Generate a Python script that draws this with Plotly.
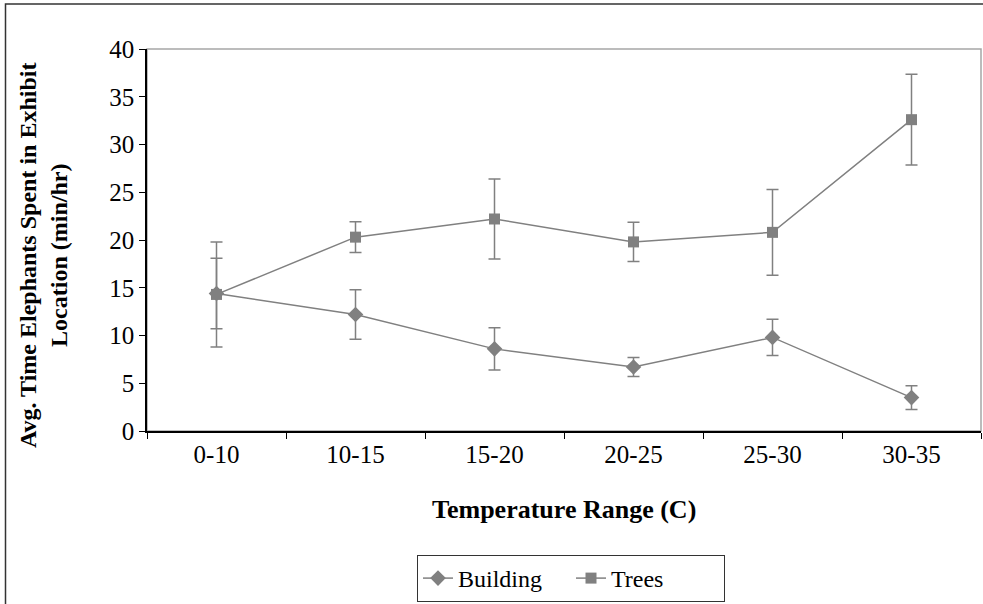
import plotly.graph_objects as go

# Temperature bins and mean time spent (min/hr) per exhibit location, with error margins
temperature_ranges = ["0-10", "10-15", "15-20", "20-25", "25-30", "30-35"]

building_mean = [14.4, 12.2, 8.6, 6.7, 9.8, 3.5]
building_err = [3.7, 2.6, 2.2, 1.0, 1.9, 1.25]

trees_mean = [14.3, 20.3, 22.2, 19.8, 20.8, 32.6]
trees_err = [5.5, 1.6, 4.2, 2.05, 4.5, 4.75]

y_ticks = [0, 5, 10, 15, 20, 25, 30, 35, 40]

GRAY = "#808080"
FONT = "Liberation Serif"

W, H = 983, 604
L, R, T, B = 147, 2, 49, 173
pw, ph = W - L - R, H - T - B


def px_x(x):
    return (x - L) / pw


def px_y(y):
    return (H - B - y) / ph


fig = go.Figure()

fig.add_trace(go.Scatter(
    x=temperature_ranges, y=building_mean, name="Building",
    mode="lines+markers",
    line=dict(color=GRAY, width=1.5),
    marker=dict(symbol="diamond", size=12, color=GRAY),
    error_y=dict(type="data", array=building_err, visible=True,
                 color=GRAY, thickness=1.5, width=6),
))

fig.add_trace(go.Scatter(
    x=temperature_ranges, y=trees_mean, name="Trees",
    mode="lines+markers",
    line=dict(color=GRAY, width=1.5),
    marker=dict(symbol="square", size=11, color=GRAY),
    error_y=dict(type="data", array=trees_err, visible=True,
                 color=GRAY, thickness=1.5, width=6),
))

shapes = [
    # plot-area frame (top and right visible in grey)
    dict(type="rect", xref="paper", yref="paper", x0=0, x1=1, y0=0, y1=1,
         line=dict(color="#a6a6a6", width=1.5), layer="below"),
    # chart-area frame
    dict(type="rect", xref="paper", yref="paper",
         x0=px_x(5.5), x1=px_x(W + 20), y0=px_y(4), y1=px_y(H + 20),
         line=dict(color="#333333", width=1.5), layer="below"),
]

annotations = [
    dict(text="<b>Avg. Time Elephants Spent in Exhibit<br>Location (min/hr)</b>",
         xref="paper", yref="paper", x=px_x(43), y=px_y(256),
         textangle=-90, showarrow=False, xanchor="center", yanchor="middle",
         font=dict(family=FONT, size=24, color="black")),
    dict(text="<b>Temperature Range (C)</b>",
         xref="paper", yref="paper", x=px_x(564), y=px_y(510),
         showarrow=False, xanchor="center", yanchor="middle",
         font=dict(family=FONT, size=26, color="black")),
]

fig.update_layout(
    width=W, height=H,
    margin=dict(l=L, r=R, t=T, b=B, autoexpand=False),
    paper_bgcolor="white", plot_bgcolor="white",
    font=dict(family=FONT, size=25, color="black"),
    showlegend=True,
    legend=dict(orientation="h", x=px_x(417), y=px_y(555),
                xanchor="left", yanchor="top",
                bordercolor="#333333", borderwidth=1,
                font=dict(family=FONT, size=24, color="black"),
                entrywidth=108, entrywidthmode="pixels",
                tracegroupgap=0),
    shapes=shapes,
    annotations=annotations,
    xaxis=dict(
        type="category", categoryorder="array", categoryarray=temperature_ranges,
        range=[-0.5, len(temperature_ranges) - 0.5],
        showline=True, linecolor="black", linewidth=1.5,
        ticks="outside", tickson="boundaries", ticklen=6, tickcolor="black",
        showgrid=False, zeroline=False,
        tickfont=dict(family=FONT, size=25, color="black"),
    ),
    yaxis=dict(
        range=[0, 40], tickvals=y_ticks,
        showline=True, linecolor="black", linewidth=1.5,
        ticks="outside", ticklen=6, tickcolor="black",
        showgrid=False, zeroline=False,
        tickfont=dict(family=FONT, size=25, color="black"),
    ),
)

fig.write_html("out.html")
